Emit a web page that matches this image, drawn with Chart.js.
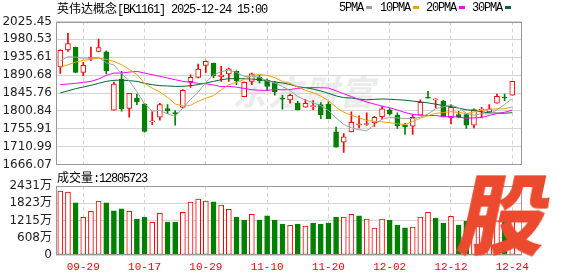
<!DOCTYPE html>
<html>
<head>
<meta charset="utf-8">
<title>英伟达概念</title>
<script src="https://cdn.jsdelivr.net/npm/chart.js@4.4.1/dist/chart.umd.min.js"></script>
<style>
	html, body { margin: 0; padding: 0; background: #fff; }
	#box { position: relative; width: 578px; height: 276px; overflow: hidden; }
	#box canvas { position: absolute; left: 0; top: 0; }
	.t { position: absolute; font: 12px 'Liberation Mono', 'Noto Sans CJK SC', monospace; letter-spacing: -1.2px; color: #000; white-space: nowrap; line-height: 14px; }
	.t .c { letter-spacing: 0; font-family: 'Noto Sans CJK SC'; }
	.key { display: inline-block; width: 6px; height: 3px; margin-left: 3px; vertical-align: middle; }
	#mark { position: absolute; left: 232px; top: 66px; font: bold italic 34px 'Noto Sans CJK SC'; color: #ebebeb; letter-spacing: 2px; white-space: nowrap; }
	#logo { position: absolute; left: 463px; top: 166px; font: 900 88px 'Noto Sans CJK SC'; color: #eb4a2f; transform: skewX(-12deg); line-height: 1; }
</style>
</head>
<body>
<div id="box">
	<div id="mark">东方财富</div>
	<canvas id="k" width="578" height="276"></canvas>
	<canvas id="v" width="578" height="276"></canvas>
	<div class="t" style="left:57px;top:1px"><span class="c">英伟达概念</span>[BK1161] 2025-12-24 15:00</div>
	<div id="legend"></div>
	<div class="t" style="left:57px;top:170px"><span class="c">成交量</span>:12805723</div>
	<div id="logo">股</div>
</div>
<script>
const dates = ['09-24', '09-25', '09-26', '09-29', '09-30', '10-09', '10-10', '10-13', '10-14', '10-15',
	'10-16', '10-17', '10-20', '10-21', '10-22', '10-23', '10-24', '10-27', '10-28', '10-29',
	'10-30', '10-31', '11-03', '11-04', '11-05', '11-06', '11-07', '11-10', '11-11', '11-12',
	'11-13', '11-14', '11-17', '11-18', '11-19', '11-20', '11-21', '11-24', '11-25', '11-26',
	'11-27', '11-28', '12-01', '12-02', '12-03', '12-04', '12-05', '12-08', '12-09', '12-10',
	'12-11', '12-12', '12-15', '12-16', '12-17', '12-18', '12-19', '12-22', '12-23', '12-24'];
const tickDates = ['09-29', '10-17', '10-29', '11-10', '11-20', '12-02', '12-12', '12-24'];

const opens = [1911, 1954, 1961, 1897.6, 1932.5, 1950, 1949.3, 1802.3, 1880.9, 1807.3,
	1833.2, 1818.2, 1773.1, 1784.8, 1806.5, 1796.5, 1809.8, 1874.2, 1885, 1915.1,
	1920.9, 1886.7, 1893.4, 1900.1, 1836.6, 1875, 1885, 1878.4, 1870, 1833.2,
	1828.3, 1819.9, 1809.9, 1811.6, 1816.6, 1818.2, 1748.1, 1722.2, 1748.1, 1764.8,
	1766.5, 1770.7, 1786.5, 1803.2, 1789.9, 1765.7, 1762.3, 1789.9, 1835, 1828.3,
	1824.9, 1783.2, 1791.5, 1791.5, 1764.8, 1802.4, 1798.2, 1819.9, 1835.8, 1840];
const highs = [1954, 1996, 1961, 1922.6, 1961, 1981, 1951.8, 1873.3, 1900.1, 1844.9,
	1843.3, 1819.9, 1799, 1819.9, 1816.5, 1801.5, 1854.1, 1891.7, 1918.4, 1926.8,
	1920.9, 1912.6, 1908.4, 1901.7, 1873.3, 1895.9, 1890, 1880.9, 1875, 1840,
	1843, 1824.9, 1829.1, 1826.6, 1821.6, 1823.3, 1759.8, 1743.9, 1798.2, 1788.2,
	1795.7, 1787.4, 1811.6, 1806.6, 1795.7, 1769.8, 1791.5, 1828.3, 1850, 1830.8,
	1827.4, 1816.6, 1799.9, 1793.2, 1805.7, 1809.9, 1816.6, 1843.3, 1843.3, 1875];
const lows = [1895, 1950, 1897, 1889, 1926.8, 1949, 1894, 1802.3, 1799.8, 1784.8,
	1816.5, 1747.2, 1766.4, 1777.3, 1794, 1764.8, 1808.2, 1860, 1883.4, 1897.6,
	1884, 1875, 1875, 1866.6, 1836.6, 1866.6, 1870.8, 1851.6, 1840, 1805,
	1819.9, 1803.2, 1809.9, 1804.1, 1781.5, 1781.5, 1709.7, 1696.4, 1748.1, 1758.2,
	1764, 1761.5, 1780.7, 1789.9, 1756.5, 1741.5, 1741.5, 1789.9, 1832.5, 1808.2,
	1785.7, 1768.2, 1783.2, 1756.5, 1758.2, 1783.2, 1798.2, 1819.9, 1826.6, 1840];
const closes = [1953, 1970, 1897.6, 1915.1, 1935.1, 1960.2, 1901.7, 1868.3, 1806.5, 1844.9,
	1824, 1748.9, 1775.6, 1816.5, 1801.5, 1793.1, 1852.4, 1885, 1905.9, 1925.1,
	1889, 1891, 1906.7, 1876.7, 1872.5, 1894.2, 1876.7, 1862, 1849, 1830,
	1840, 1803.2, 1819.9, 1814.1, 1791.5, 1781.5, 1709.7, 1735.6, 1772.3, 1768.2,
	1769, 1784.9, 1805.7, 1793.2, 1763, 1761, 1784.9, 1822.4, 1832.5, 1829.9,
	1785.7, 1809.9, 1784.9, 1764.8, 1804.1, 1804.9, 1805.7, 1837.5, 1833.3, 1875];

const ma5 = [1926.8, 1936.8, 1936, 1932.7, 1934.1, 1935.6, 1921.9, 1916.1, 1894.4, 1876.3,
	1849.1, 1818.5, 1800, 1802, 1793.3, 1787.1, 1807.8, 1829.7, 1847.6, 1872.3,
	1891.5, 1899.2, 1903.5, 1897.7, 1887.2, 1888, 1885.4, 1876.4, 1870.9, 1862.4,
	1851.5, 1836.8, 1828.4, 1821.4, 1813.7, 1802, 1783.3, 1766.5, 1758.1, 1753.5,
	1751, 1766, 1780, 1784.2, 1783.2, 1781.6, 1781.6, 1784.9, 1792.8, 1806.1,
	1811.1, 1816.1, 1808.6, 1795, 1789.9, 1793.7, 1792.9, 1803.4, 1817.1, 1831.3];
const ma10 = [1910, 1916.8, 1923.5, 1927.7, 1930.2, 1933.5, 1930.2, 1925.1, 1916.8, 1905.2,
	1892.4, 1870.2, 1858, 1848.2, 1834.8, 1818.1, 1813.2, 1814.8, 1824.8, 1832.8,
	1839.3, 1853.5, 1866.6, 1872.6, 1879.7, 1889.9, 1892.3, 1890, 1884.3, 1874.8,
	1869.8, 1861.1, 1852.4, 1846.2, 1838.1, 1826.8, 1810.1, 1797.5, 1789.8, 1783.6,
	1776.5, 1774.7, 1773.3, 1771.2, 1768.4, 1766.3, 1773.9, 1782.5, 1788.6, 1794.7,
	1796.4, 1798.9, 1796.8, 1794, 1798.2, 1802.4, 1804.5, 1806, 1806.1, 1810.6];
const ma20 = [1866.7, 1868.4, 1870, 1872.5, 1875, 1880.9, 1890, 1895.9, 1895.9, 1898.4,
	1900.1, 1895.9, 1891.7, 1887.6, 1883.4, 1879.2, 1875, 1872.6, 1870, 1869,
	1865.9, 1861.9, 1862.3, 1860.4, 1857.3, 1854, 1852.7, 1852.4, 1854.5, 1853.8,
	1854.6, 1857.3, 1859.5, 1859.4, 1858.9, 1858.3, 1851.2, 1843.7, 1837, 1829.2,
	1823.1, 1817.9, 1812.8, 1808.7, 1803.1, 1796.6, 1792, 1790, 1789.2, 1789.2,
	1786.4, 1786.8, 1785, 1782.6, 1783.2, 1784.4, 1789.2, 1794.3, 1797.3, 1802.7];
const ma30 = [1846, 1851, 1856.7, 1860.8, 1865, 1870, 1875, 1877.6, 1878.4, 1876.7,
	1875, 1870, 1866.7, 1864.2, 1863.4, 1862.5, 1862.5, 1864.2, 1866.7, 1870.9,
	1875, 1879.2, 1881.7, 1881.7, 1881.7, 1880.9, 1879.2, 1876.7, 1873.4, 1870.9,
	1867.2, 1861.6, 1859, 1855.7, 1850.9, 1844.9, 1838.5, 1834.1, 1833, 1830.4,
	1828.6, 1829.8, 1830.8, 1830, 1828.8, 1827.7, 1825.4, 1823.3, 1820.9, 1817.7,
	1814.2, 1811.6, 1807.5, 1803.8, 1801.5, 1798.5, 1796.1, 1795.3, 1794.8, 1796.3];

// volume, in 万
const volumes = [2253, 2218, 1838, 1328, 1542, 1898, 1838, 1554, 1625, 1542,
	1269, 1340, 1150, 1471, 1162, 1162, 1506, 1862, 1969, 1898,
	1874, 1755, 1613, 1340, 1233, 1435, 1233, 1376, 1233, 1091,
	1044, 1091, 1020, 1127, 1091, 1127, 1340, 1340, 1435, 1376,
	1269, 949, 1269, 1233, 1056, 961, 984, 1340, 1506, 1305,
	1127, 1364, 1056, 1198, 1100, 1000, 1050, 1200, 1240, 1281];

const priceTicks = [1666.07, 1710.99, 1755.91, 1800.84, 1845.76, 1890.68, 1935.61, 1980.53, 2025.45];
const volTicks = [0, 608, 1215, 1823, 2431];
const maLabels = ['5PMA', '10PMA', '20PMA', '30PMA'];

const RED = '#ff0000',
	GREEN = '#008000',
	GRID = '#d4d4d4',
	FRAME = '#999999',
	maColors = ['#a0a0a0', '#f0a000', '#ff00ff', '#006633'];

const tickIdx = tickDates.map(d => dates.indexOf(d)),
	up = opens.map((o, i) => closes[i] >= o),
	volUp = closes.map((c, i) => c >= (i ? closes[i - 1] : opens[i]));

// legend in the top right corner
const legendLeft = [339, 380, 426, 472];
document.getElementById('legend').innerHTML = maLabels.map((l, k) =>
	`<div class="t" style="left:${legendLeft[k]}px;top:1px">${l}<span class="key" style="background:${maColors[k]}"></span></div>`
).join('');

// grey box round the plot area
const frame = {
	id: 'frame',
	afterDraw(chart) {
		const { ctx, chartArea: a } = chart;
		ctx.save();
		ctx.strokeStyle = FRAME;
		ctx.lineWidth = 1;
		ctx.strokeRect(Math.round(a.left) + 0.5, Math.round(a.top) + 0.5,
			Math.round(a.right - a.left) - 1, Math.round(a.bottom - a.top) - 1);
		ctx.restore();
	}
};

const xScale = labels => ({
	type: 'linear',
	min: -0.56,
	max: 60.27,
	offset: false,
	afterBuildTicks: s => { s.ticks = tickIdx.map(v => ({ value: v })); },
	afterFit: s => { s.height = labels ? 21 : 0; },
	grid: { color: GRID, drawTicks: false, offset: false },
	border: { display: false, dash: [4, 3] },
	ticks: {
		display: labels,
		autoSkip: false,
		maxRotation: 0,
		padding: 5,
		color: RED,
		font: { family: 'Liberation Mono', size: 11 },
		callback: v => dates[v]
	}
});

const yScale = (ticks, fmt) => ({
	min: ticks[0],
	max: ticks[ticks.length - 1],
	afterBuildTicks: s => { s.ticks = ticks.map(v => ({ value: v })); },
	afterFit: s => { s.width = 56; },
	grid: { color: GRID, drawTicks: false },
	border: { display: false },
	ticks: {
		autoSkip: false,
		padding: 4,
		color: '#222',
		font: { family: 'DejaVu Sans, Noto Sans CJK SC', size: 12 },
		callback: fmt
	}
});

const base = {
	responsive: false,
	animation: false,
	devicePixelRatio: 1,
	events: [],
	plugins: { legend: { display: false }, tooltip: { enabled: false } }
};

new Chart(document.getElementById('k'), {
	type: 'bar',
	data: {
		datasets: [
			...[ma5, ma10, ma20, ma30].map((arr, k) => ({
				type: 'line',
				label: maLabels[k],
				data: arr.map((y, i) => ({ x: i, y })),
				borderColor: maColors[k],
				borderWidth: 1,
				pointRadius: 0,
				tension: 0,
				order: 0
			})),
			{
				label: 'body',
				data: opens.map((o, i) => ({ x: i, y: [o, closes[i]] })),
				backgroundColor: up.map(u => u ? '#fff' : GREEN),
				borderColor: up.map(u => u ? RED : GREEN),
				borderWidth: 1,
				borderSkipped: false,
				barThickness: 5,
				minBarLength: 1,
				grouped: false,
				order: 1
			},
			{
				label: 'wick',
				data: lows.map((l, i) => ({ x: i, y: [l, highs[i]] })),
				backgroundColor: up.map(u => u ? RED : GREEN),
				barThickness: 1,
				grouped: false,
				order: 2
			}
		]
	},
	options: {
		...base,
		layout: { padding: { top: 21.5, right: 56, bottom: 111.5, left: 0 } },
		scales: {
			x: xScale(false),
			y: yScale(priceTicks, v => v.toFixed(2))
		}
	},
	plugins: [frame]
});

new Chart(document.getElementById('v'), {
	type: 'bar',
	data: {
		datasets: [{
			label: 'volume',
			data: volumes.map((v, i) => ({ x: i, y: v })),
			backgroundColor: volUp.map(u => u ? '#fff' : GREEN),
			borderColor: volUp.map(u => u ? RED : GREEN),
			borderWidth: 1,
			borderSkipped: false,
			barThickness: 5,
			grouped: false
		}]
	},
	options: {
		...base,
		layout: { padding: { top: 186, right: 56, bottom: 0, left: 0 } },
		scales: {
			x: xScale(true),
			y: yScale(volTicks, v => v ? v + '万' : '0')
		}
	},
	plugins: [frame]
});
</script>
</body>
</html>
